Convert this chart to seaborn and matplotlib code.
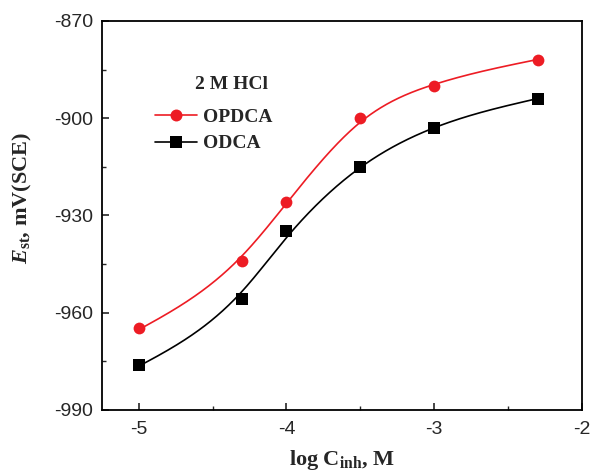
import numpy as np
import pandas as pd
import matplotlib
matplotlib.use("Agg")
import matplotlib.pyplot as plt
from matplotlib.lines import Line2D
from matplotlib.ticker import MultipleLocator
import seaborn as sns

# ---- data ----
log_c = [-5.0, -4.3, -4.0, -3.5, -3.0, -2.3]
opdca = [-964.8, -944.0, -925.9, -899.9, -890.1, -882.0]
odca = [-976.0, -955.9, -934.8, -915.1, -903.0, -894.1]
series_names = ["OPDCA", "ODCA"]
legend_title = "2 M HCl"
x_ticks = [-5, -4, -3, -2]
y_ticks = [-990, -960, -930, -900, -870]

red = "#ED1C24"
black = "#000000"
SMOOTH = 0.005


def natural_spline(x, y, n=400):
    x = np.asarray(x, float)
    y = np.asarray(y, float)
    k = len(x)
    h = np.diff(x)
    A = np.zeros((k, k))
    b = np.zeros(k)
    A[0, 0] = A[-1, -1] = 1.0
    for i in range(1, k - 1):
        A[i, i - 1] = h[i - 1]
        A[i, i] = 2 * (h[i - 1] + h[i])
        A[i, i + 1] = h[i]
        b[i] = 6 * ((y[i + 1] - y[i]) / h[i] - (y[i] - y[i - 1]) / h[i - 1])
    M = np.linalg.solve(A, b)
    xs = np.linspace(x[0], x[-1], n)
    idx = np.clip(np.searchsorted(x, xs) - 1, 0, k - 2)
    x0, x1 = x[idx], x[idx + 1]
    hh = x1 - x0
    t0, t1 = x1 - xs, xs - x0
    ys = (M[idx] * t0 ** 3 / (6 * hh) + M[idx + 1] * t1 ** 3 / (6 * hh)
          + (y[idx] / hh - M[idx] * hh / 6) * t0
          + (y[idx + 1] / hh - M[idx + 1] * hh / 6) * t1)
    return xs, ys


def smoothing_spline(x, y, lam):
    """Reinsch cubic smoothing spline of the measured points."""
    x = np.asarray(x, float)
    y = np.asarray(y, float)
    k = len(x)
    h = np.diff(x)
    Q = np.zeros((k, k - 2))
    R = np.zeros((k - 2, k - 2))
    for i in range(k - 2):
        Q[i, i] = 1 / h[i]
        Q[i + 1, i] = -1 / h[i] - 1 / h[i + 1]
        Q[i + 2, i] = 1 / h[i + 1]
        R[i, i] = (h[i] + h[i + 1]) / 3
        if i < k - 3:
            R[i, i + 1] = R[i + 1, i] = h[i + 1] / 6
    gamma = np.linalg.solve(R + lam * Q.T @ Q, Q.T @ y)
    g = y - lam * Q @ gamma
    return natural_spline(x, g)


sns.set_theme(style="ticks")
plt.rcParams["font.family"] = ["Liberation Sans", "DejaVu Sans"]
plt.rcParams["mathtext.fontset"] = "custom"
plt.rcParams["mathtext.rm"] = "Liberation Serif:bold"
plt.rcParams["mathtext.it"] = "Liberation Serif:italic:bold"
plt.rcParams["mathtext.bf"] = "Liberation Serif:bold"

fig = plt.figure(figsize=(5.92, 4.75), dpi=100)
ax = fig.add_axes([0.172, 0.137, 0.811, 0.819])

df = pd.DataFrame({
    "x": log_c * 2,
    "y": opdca + odca,
    "series": [series_names[0]] * len(log_c) + [series_names[1]] * len(log_c),
})

fits = []
for name, vals in zip(series_names, [opdca, odca]):
    xs, ys = smoothing_spline(log_c, vals, SMOOTH)
    fits.append(pd.DataFrame({"x": xs, "y": ys, "series": name}))
fit_df = pd.concat(fits, ignore_index=True)

pal = {series_names[0]: red, series_names[1]: black}
sns.lineplot(data=fit_df, x="x", y="y", hue="series", palette=pal, ax=ax,
             linewidth=1.2, legend=False, sort=False, estimator=None)
sns.scatterplot(data=df[df.series == series_names[0]], x="x", y="y", color=red,
                marker="o", s=72, linewidth=0, ax=ax, legend=False, zorder=3)
sns.scatterplot(data=df[df.series == series_names[1]], x="x", y="y", color=black,
                marker="s", s=66, linewidth=0, ax=ax, legend=False, zorder=3)

ax.set_xlim(-5.25, -2)
ax.set_ylim(-990, -870)
ax.set_xticks(x_ticks)
ax.set_yticks(y_ticks)
ax.set_xticklabels([str(t) for t in x_ticks])
ax.set_yticklabels([str(t) for t in y_ticks])
ax.xaxis.set_minor_locator(MultipleLocator(0.5))
ax.yaxis.set_minor_locator(MultipleLocator(15))
ax.tick_params(which="major", direction="in", length=5, width=1.2, labelsize=14,
               top=False, right=False)
ax.tick_params(axis="x", which="major", pad=8)
ax.tick_params(axis="y", which="major", pad=6)
ax.tick_params(which="minor", direction="in", length=3, width=1.0, top=False, right=False)
for sp in ax.spines.values():
    sp.set_linewidth(1.3)
    sp.set_color("black")

ax.set_xlabel(r"log C$_{\mathbf{inh}}$, M", fontfamily="Liberation Serif",
              fontweight="bold", fontsize=16, labelpad=7)
ax.set_ylabel(r"$E$$_{\mathbf{st}}$, mV(SCE)", fontfamily="Liberation Serif",
              fontweight="bold", fontsize=16)
ax.yaxis.set_label_coords(-0.141, 0.544)

handles = [
    Line2D([0], [0], color=red, lw=1.2, marker="o", markersize=8.6, markeredgewidth=0),
    Line2D([0], [0], color=black, lw=1.2, marker="s", markersize=8.2, markeredgewidth=0),
]
leg = ax.legend(handles, series_names, loc="upper left",
                bbox_to_anchor=(0.095, 0.795), frameon=False, handlelength=2.15,
                handletextpad=0.3, labelspacing=0.45, borderaxespad=0,
                prop={"family": "Liberation Serif", "weight": "bold", "size": 14})
ax.text(0.271, 0.837, legend_title, transform=ax.transAxes, ha="center", va="center",
        fontfamily="Liberation Serif", fontweight="bold", fontsize=14)

fig.savefig("out.png", dpi=100)
